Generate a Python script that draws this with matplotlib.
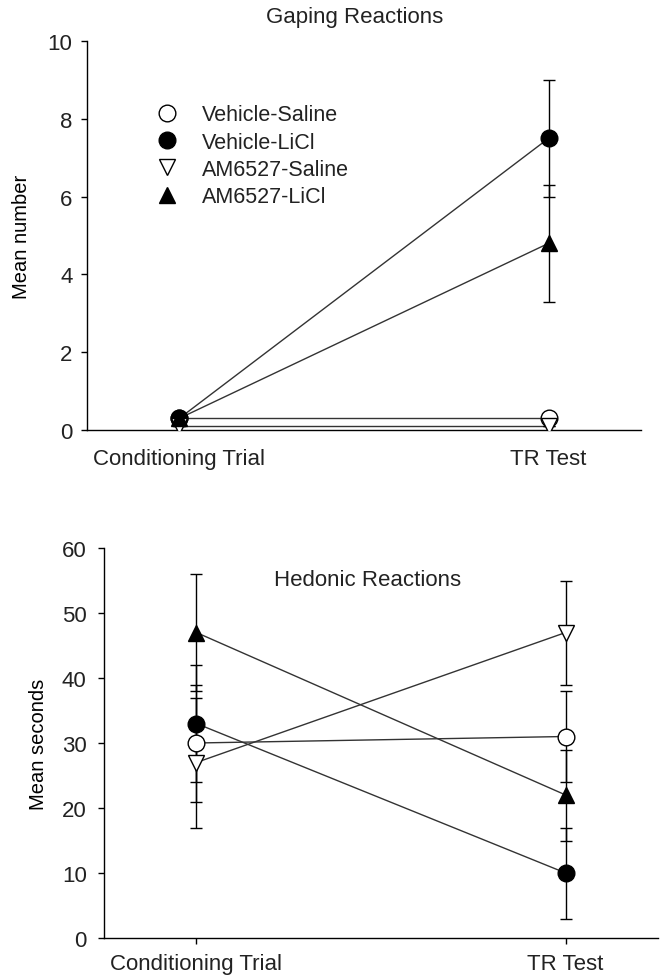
import numpy as np
import matplotlib
matplotlib.use("Agg")
import matplotlib.pyplot as plt
from matplotlib.lines import Line2D

plt.rcParams['font.family'] = ['Liberation Sans', 'DejaVu Sans']
plt.rcParams['text.color'] = '#222222'
plt.rcParams['xtick.labelcolor'] = '#222222'
plt.rcParams['ytick.labelcolor'] = '#222222'

# data
phases = ['Conditioning Trial', 'TR Test']
groups = ['Vehicle-Saline', 'Vehicle-LiCl', 'AM6527-Saline', 'AM6527-LiCl']

gaping_mean = [[0.3, 0.3], [0.3, 7.5], [0.1, 0.1], [0.3, 4.8]]
gaping_sem = [[0, 0], [0, 1.5], [0, 0], [0, 1.5]]

hedonic_mean = [[30, 31], [33, 10], [27, 47], [47, 22]]
hedonic_sem = [[9, 7], [9, 7], [10, 8], [9, 7]]

markers = ['o', 'o', 'v', '^']
faces = ['white', 'black', 'white', 'black']

fig = plt.figure(figsize=(6.62, 9.78), dpi=100)
ax1 = fig.add_axes([87 / 662, 1 - 431 / 978, 554 / 662, 389 / 978])
ax2 = fig.add_axes([104 / 662, 1 - 939 / 978, 554 / 662, 390 / 978])

x = np.arange(len(phases))

def draw(ax, means, sems):
    for i in range(len(groups)):
        ax.plot(x, means[i], color='#333333', lw=1.0, zorder=2)
        ax.errorbar(x, means[i], yerr=sems[i], fmt='none', ecolor='black',
                    elinewidth=1.0, capsize=4.5, capthick=1.0, zorder=3)
        ax.plot(x, means[i], linestyle='none', marker=markers[i], ms=12,
                mfc=faces[i], mec='black', mew=1.0, zorder=4)
    for s in ['top', 'right']:
        ax.spines[s].set_visible(False)
    ax.spines['left'].set_linewidth(1.0)
    ax.spines['bottom'].set_linewidth(1.0)
    ax.set_xlim(-0.25, 1.25)
    ax.set_xticks(x)
    ax.set_xticklabels(phases)

draw(ax1, gaping_mean, gaping_sem)
ax1.set_ylim(0, 10)
ax1.set_yticks(np.arange(0, 11, 2))
ax1.tick_params(axis='y', direction='out', length=4.5, width=1, pad=6, labelsize=16)
ax1.tick_params(axis='x', length=0, pad=13, labelsize=16)
ax1.set_ylabel('Mean number', fontsize=14.5, labelpad=12)
fig.text(355 / 662, 1 - 18 / 978, 'Gaping Reactions', ha='center', va='center', fontsize=16)

handles = [Line2D([], [], linestyle='none', marker=markers[i], ms=12,
                  mfc=faces[i], mec='black', mew=1.0) for i in range(len(groups))]
ax1.legend(handles, groups, loc='upper left', bbox_to_anchor=(0.11, 0.86),
           frameon=False, fontsize=15.5, handlelength=1.0, handletextpad=1.1,
           labelspacing=0.3, borderaxespad=0)

draw(ax2, hedonic_mean, hedonic_sem)
ax2.set_ylim(0, 60)
ax2.set_yticks(np.arange(0, 61, 10))
ax2.tick_params(axis='y', direction='out', length=4.5, width=1, pad=8, labelsize=16)
ax2.tick_params(axis='x', direction='out', length=4.5, width=1, pad=6, labelsize=16)
ax2.set_ylabel('Mean seconds', fontsize=14.5, labelpad=10)
fig.text(368 / 662, 1 - 580 / 978, 'Hedonic Reactions', ha='center', va='center', fontsize=16)

fig.savefig('out.png', dpi=100)
